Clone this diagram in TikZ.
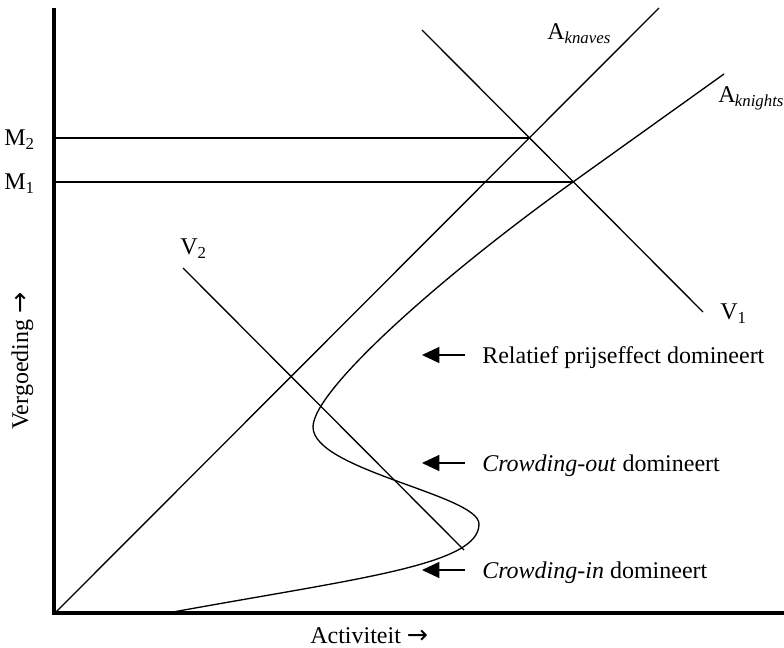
\documentclass[tikz,border=0pt]{standalone}
\usepackage{fontspec}
\setmainfont{Liberation Serif}
\newfontfamily\arrowfont{DejaVu Sans}
\usetikzlibrary{arrows.meta}
\tikzset{
  graphline/.style={line width=1pt},
  axisline/.style={line width=3.2pt},
  lbl/.style={font=\fontsize{18}{21}\selectfont,inner sep=0pt,anchor=base west}
}
\newcommand{\effectlabel}[3]{%
  \node[lbl] (#1) at (482,#2) {#3};%
  \draw[graphline,-{Triangle[length=13pt,width=12pt]}] ([xshift=-12.75pt,yshift=6pt]#1.base west) -- ++(-43,0);%
}
\newcommand{\pijl}{{\arrowfont\fontsize{19}{21}\selectfont →}}

\begin{document}
\begin{tikzpicture}[x=0.75pt,y=-0.75pt]
  \useasboundingbox (0,0) rectangle (784,648);
  \draw[axisline] (54,8) -- (54,613) -- (784,613);
  \draw[graphline] (54,138) -- (530,138);
  \draw[graphline] (54,182) -- (573,182);
  \draw[graphline] (56,612) -- (659,8);
  \draw[graphline] (422,30) -- (703,312);
  \draw[graphline] (183,268) -- (464,550);
  \draw[graphline] (173,612) .. controls (360,578) and (479,565) .. (479,524)
    .. controls (479,495) and (313,470) .. (313,427)
    .. controls (313,390) and (443,275) .. (573,182) -- (724,74);
  \node[lbl,anchor=base east] (m2) at (35,146) {M\textsubscript{2}};
  \node[lbl,anchor=base east] (m1) at (35,190) {M\textsubscript{1}};
  \node[lbl] (aknaves) at (547,40) {A\textsubscript{\textit{knaves}}};
  \node[lbl] (aknights) at (718,103) {A\textsubscript{\textit{\kern-0.5pt knights}}};
  \node[lbl] (v1) at (720,320) {V\textsubscript{1}};
  \node[lbl] (v2) at (180,255) {V\textsubscript{2}};
  \effectlabel{prijs}{363}{Relatief prijseffect domineert}
  \effectlabel{cout}{471}{\textit{Crowding-out} domineert}
  \effectlabel{cin}{578}{\textit{Crowding-in} domineert}
  \node[lbl] (activ) at (310,643) {Activiteit \pijl};
  \node[lbl,rotate=90] (vergoed) at (28,430) {Vergoeding \pijl};
\end{tikzpicture}
\end{document}
